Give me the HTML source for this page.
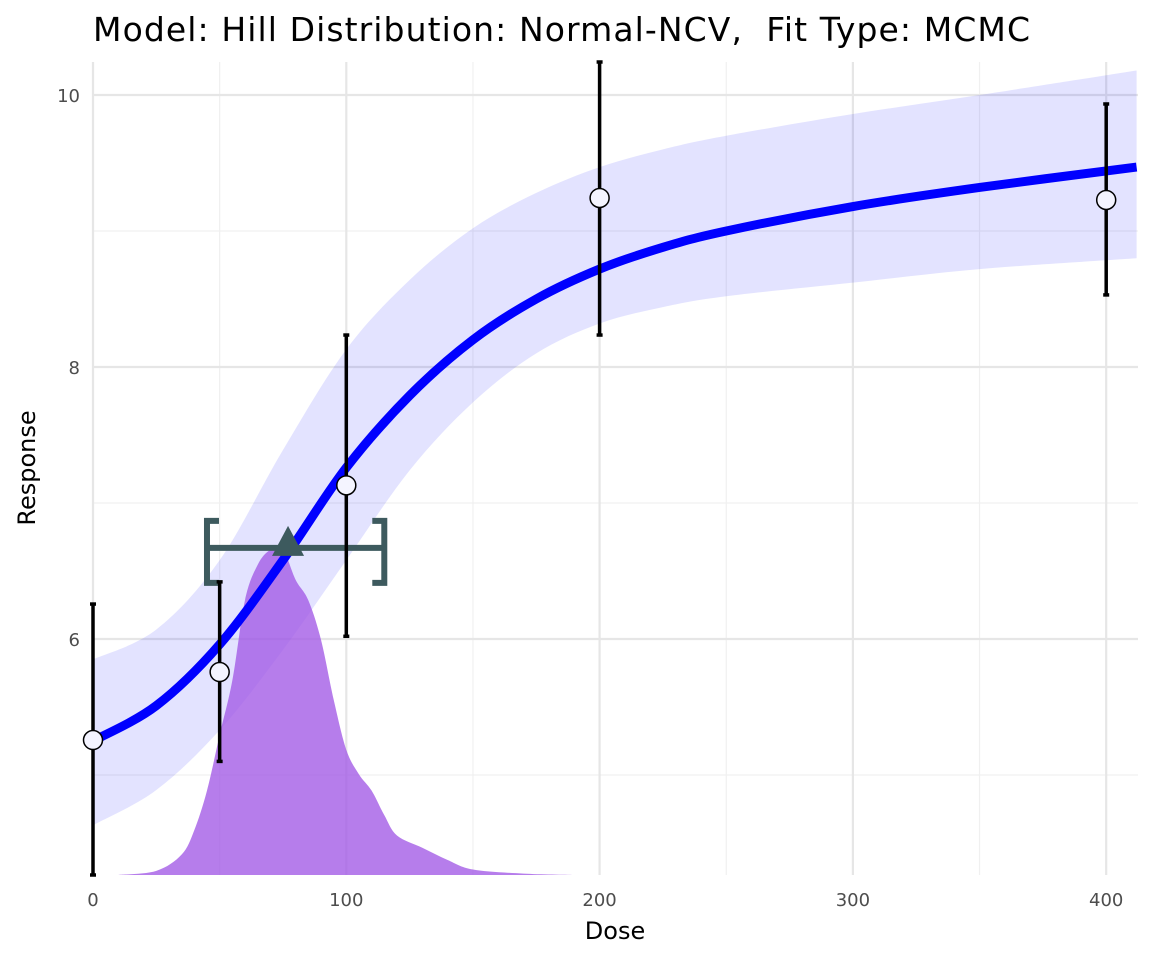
<!DOCTYPE html>
<html><head><meta charset="utf-8"><style>
body{margin:0;background:#fff;}
svg text{font-family:"DejaVu Sans","Liberation Sans",sans-serif;}
</style></head><body>
<svg id="chart" width="1152" height="960" xmlns="http://www.w3.org/2000/svg">
<rect width="1152" height="960" fill="#fff"/>
<text x="93" y="41" font-size="33" fill="#000" xml:space="preserve" textLength="937" lengthAdjust="spacing">Model: Hill Distribution: Normal-NCV,  Fit Type: MCMC</text>
<g id="grid"></g>
<g id="band"></g>
<g id="density"></g>
<g id="curve"></g>
<g id="bmd"></g>
<g id="errs"></g>
<g id="axes"></g>
<text x="615" y="939" font-size="24" text-anchor="middle">Dose</text>
<text transform="translate(35,468) rotate(-90)" font-size="24" text-anchor="middle">Response</text>
</svg>
<script>
const doseGrid=[0,25,50,75,100,125,150,175,200,225,250,300,350,412];
const meanCurve=[5.25,5.51,5.96,6.58,7.26,7.79,8.20,8.50,8.72,8.88,9.00,9.18,9.32,9.47];
const bandUpper=[5.85,6.07,6.58,7.39,8.13,8.64,9.02,9.28,9.47,9.60,9.70,9.86,10.0,10.18];
const bandLower=[4.63,4.89,5.33,5.92,6.58,7.24,7.74,8.10,8.32,8.44,8.52,8.62,8.72,8.80];
const densDose=[10,25,35,40,45,50,55,60,65,70,75,80,85,90,95,100,105,110,115,120,130,140,150,170,190];
const densHeight=[0,0.03,0.15,0.33,0.62,1.03,1.43,2.02,2.28,2.39,2.39,2.17,2.02,1.73,1.29,0.92,0.74,0.62,0.44,0.29,0.2,0.11,0.04,0.01,0];
const obsDose=[0,50,100,200,400];
const obsMean=[5.257,5.757,7.13,9.243,9.228];
const obsLow=[4.2,5.10,6.02,8.235,8.53];
const obsHigh=[6.257,6.42,8.235,10.5,9.934];
const bmd=[77,6.67]; const bmdl=45, bmdu=115;
const xTicks=[0,100,200,300,400], yTicks=[6,8,10], yMinor=[5,7,9];
const X0=93,X1=1138,Y0=62,Y1=875;
const xs=d=>93+d*2.533, ys=v=>639-(v-6)*136;
const NS="http://www.w3.org/2000/svg";
function mk(parent,tag,attrs){const e=document.createElementNS(NS,tag);for(const k in attrs)e.setAttribute(k,attrs[k]);document.getElementById(parent).appendChild(e);return e;}
function smooth(pts,start){let d=start?`M${pts[0][0]},${pts[0][1]}`:`L${pts[0][0]},${pts[0][1]}`;
for(let i=0;i<pts.length-1;i++){const p0=pts[Math.max(i-1,0)],p1=pts[i],p2=pts[i+1],p3=pts[Math.min(i+2,pts.length-1)];
d+=`C${p1[0]+(p2[0]-p0[0])/6},${p1[1]+(p2[1]-p0[1])/6} ${p2[0]-(p3[0]-p1[0])/6},${p2[1]-(p3[1]-p1[1])/6} ${p2[0]},${p2[1]}`;}return d;}
[50,150,250,350].forEach(t=>{const e=mk('grid','line',{x1:xs(t),x2:xs(t),y1:Y0,y2:Y1,stroke:'#f0f0f0','stroke-width':1.2});

});
yMinor.forEach(t=>{const e=mk('grid','line',{x1:X0,x2:X1,y1:ys(t),y2:ys(t),stroke:'#f0f0f0','stroke-width':1.2});

});
xTicks.forEach(t=>{const e=mk('grid','line',{x1:xs(t),x2:xs(t),y1:Y0,y2:Y1,stroke:'#e6e6e6','stroke-width':2.2});


const l=mk('axes','text',{x:xs(t),y:906,'font-size':18,fill:'#4d4d4d','text-anchor':'middle'});l.textContent=t;

});
yTicks.forEach(t=>{const e=mk('grid','line',{x1:X0,x2:X1,y1:ys(t),y2:ys(t),stroke:'#e6e6e6','stroke-width':2.2});


const l=mk('axes','text',{x:80,y:ys(t)+7,'font-size':18,fill:'#4d4d4d','text-anchor':'end'});l.textContent=t;

});
const cp=document.createElementNS(NS,'clipPath');cp.id='clip';const cr=document.createElementNS(NS,'rect');
cr.setAttribute('x',X0);cr.setAttribute('y',Y0);cr.setAttribute('width',X1-X0);cr.setAttribute('height',Y1-Y0);cp.appendChild(cr);document.getElementById('chart').appendChild(cp);
const up=doseGrid.map((d,i)=>[xs(d),ys(bandUpper[i])]);
const lo=doseGrid.map((d,i)=>[xs(d),ys(bandLower[i])]).reverse();
let e=mk('band','path',{d:smooth(up,true)+smooth(lo,false)+'Z',fill:'#0000ff','fill-opacity':0.11,'clip-path':'url(#clip)'});


const dpts=densDose.map((d,i)=>[xs(d),ys(4.265+densHeight[i])]);
e=mk('density','path',{d:`M${dpts[0][0]},${Y1}`+smooth(dpts,false)+`L${dpts[dpts.length-1][0]},${Y1}Z`,fill:'#a259e6','fill-opacity':0.78});


e=mk('curve','path',{d:smooth(doseGrid.map((d,i)=>[xs(d),ys(meanCurve[i])]),true),fill:'none',stroke:'#0000ff','stroke-width':9,'stroke-linejoin':'round','clip-path':'url(#clip)'});


const bc='#3d5a5e',by=ys(bmd[1]);
e=mk('bmd','line',{x1:xs(bmdl),x2:xs(bmdu),y1:by,y2:by,stroke:bc,'stroke-width':6});


e=mk('bmd','path',{d:`M${xs(bmdl)+12},${by-27}H${xs(bmdl)}V${by+35}H${xs(bmdl)+12}`,fill:'none',stroke:bc,'stroke-width':6});


e=mk('bmd','path',{d:`M${xs(bmdu)-12},${by-27}H${xs(bmdu)}V${by+35}H${xs(bmdu)-12}`,fill:'none',stroke:bc,'stroke-width':6});


e=mk('bmd','path',{d:`M${xs(bmd[0])},${by-22}l16,30h-32z`,fill:bc});


obsDose.forEach((d,i)=>{const x=xs(d),t=Math.max(ys(obsHigh[i]),Y0),b=Math.min(ys(obsLow[i]),Y1);
let l=mk('errs','line',{x1:x,x2:x,y1:t,y2:b,stroke:'#000','stroke-width':3.5});


[t,b].forEach(y=>{const c=mk('errs','line',{x1:x-3,x2:x+3,y1:y,y2:y,stroke:'#000','stroke-width':3.5});

});
const c=mk('errs','circle',{cx:x,cy:ys(obsMean[i]),r:9.5,fill:'#f4f4ff',stroke:'#000','stroke-width':1.5});

});
</script>
</body></html>
